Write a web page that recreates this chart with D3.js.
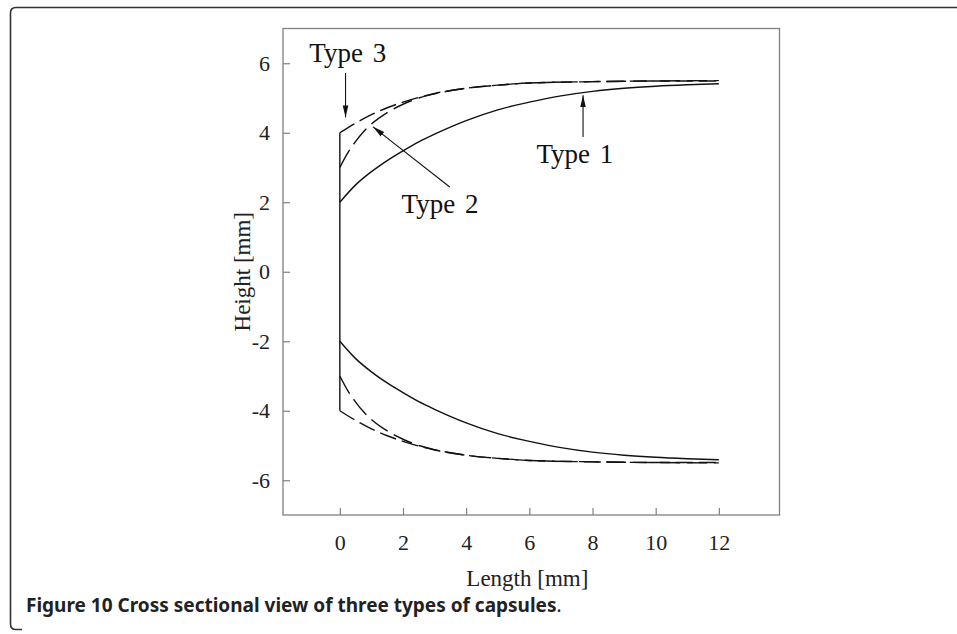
<!DOCTYPE html>
<html>
<head>
<meta charset="utf-8">
<script src="https://cdn.jsdelivr.net/npm/d3@7/dist/d3.min.js"></script>
<style>
  html, body { margin: 0; padding: 0; background: #fff; }
  svg { display: block; }
</style>
</head>
<body>
<svg id="chart" width="957" height="634"></svg>
<script>
// ---------------- data ----------------
const xTicks = [0, 2, 4, 6, 8, 10, 12];
const yTicks = [-6, -4, -2, 0, 2, 4, 6];

// Type 1 (solid)
const type1X     = [0, 0.5, 1, 1.5, 2, 2.5, 3, 4, 5, 6, 7, 8, 9, 10, 11, 12];
const type1Upper = [2.00, 2.50, 2.88, 3.20, 3.48, 3.74, 3.96, 4.35, 4.66, 4.88, 5.06, 5.19, 5.28, 5.34, 5.38, 5.41];
const type1Lower = [-2.00, -2.50, -2.88, -3.20, -3.48, -3.74, -3.96, -4.35, -4.66, -4.88, -5.06, -5.19, -5.28, -5.34, -5.38, -5.41];

// Type 2 (dashed)
const type2X     = [0, 0.25, 0.5, 0.75, 1, 1.5, 2, 2.5, 3, 4, 5, 6, 8, 10, 12];
const type2Upper = [3.00, 3.42, 3.75, 4.03, 4.25, 4.58, 4.82, 5.00, 5.12, 5.28, 5.37, 5.43, 5.47, 5.49, 5.50];
const type2Lower = [-3.00, -3.42, -3.75, -4.03, -4.25, -4.58, -4.82, -5.00, -5.12, -5.28, -5.37, -5.43, -5.47, -5.49, -5.50];

// Type 3 (long dashed)
const type3X     = [0, 0.5, 1, 1.5, 2, 3, 4, 5, 6, 8, 10, 12];
const type3Upper = [4.00, 4.28, 4.52, 4.72, 4.88, 5.13, 5.28, 5.37, 5.43, 5.47, 5.49, 5.49];
const type3Lower = [-4.00, -4.28, -4.52, -4.72, -4.88, -5.13, -5.28, -5.37, -5.43, -5.47, -5.49, -5.49];

// closing wall at x = 0
const wallX = [0, 0];
const wallY = [-4, 4];

// annotations: label text, label anchor, arrow tail -> head (data units)
const annLabels = ["Type 3", "Type 2", "Type 1"];
const annLabelX = [0.25, 3.17, 7.44];
const annLabelY = [6.03, 1.69, 3.13];
const annTailX  = [0.18, 3.48, 7.70];
const annTailY  = [5.72, 2.44, 3.88];
const annHeadX  = [0.18, 1.05, 7.70];
const annHeadY  = [4.44, 4.17, 5.08];

// ---------------- drawing ----------------
const svg = d3.select("#chart");
const serif = "'Liberation Serif', 'Times New Roman', serif";

// outer figure border (rounded, open on right/bottom)
svg.append("path")
  .attr("d", "M957,7.5 L16,7.5 Q10.5,7.5 10.5,13 L10.5,624 Q10.5,629.5 16,629.5 L22,629.5")
  .attr("fill", "none").attr("stroke", "#333").attr("stroke-width", 1.6);

const x = d3.scaleLinear().domain([-1.8, 13.92]).range([283, 779.5]);
const y = d3.scaleLinear().domain([-7, 7]).range([515, 28.5]);

// frame
svg.append("rect")
  .attr("x", x(-1.8)).attr("y", y(7))
  .attr("width", x(13.92) - x(-1.8)).attr("height", y(-7) - y(7))
  .attr("fill", "none").attr("stroke", "#808080").attr("stroke-width", 1.3);

// axes
const gx = svg.append("g").attr("transform", `translate(0,${y(-7)})`)
  .call(d3.axisBottom(x).tickValues(xTicks).tickSize(-7).tickPadding(19).tickFormat(d => String(d)));
const gy = svg.append("g").attr("transform", `translate(${x(-1.8)},0)`)
  .call(d3.axisLeft(y).tickValues(yTicks).tickSize(-7).tickPadding(13).tickFormat(d => String(d)));
[gx, gy].forEach(g => {
  g.select(".domain").remove();
  g.selectAll(".tick line").attr("stroke", "#808080").attr("stroke-width", 1.2);
  g.selectAll(".tick text").attr("fill", "#222").style("font-family", serif).style("font-size", "22px");
});

// axis titles
svg.append("text")
  .attr("x", (x(0) + x(12)) / 2 - 2).attr("y", 586)
  .attr("text-anchor", "middle")
  .style("font-family", serif).style("font-size", "23px").attr("fill", "#222")
  .text("Length [mm]");
svg.append("text")
  .attr("transform", `translate(250,${y(0)}) rotate(-90)`)
  .attr("text-anchor", "middle")
  .style("font-family", serif).style("font-size", "23px").attr("fill", "#222")
  .text("Height [mm]");

// curves
const line = d3.line().x(d => x(d[0])).y(d => y(d[1])).curve(d3.curveMonotoneX);
const zip = (xs, ys) => xs.map((v, i) => [v, ys[i]]);
const series = [
  { xs: type3X, ys: type3Upper, dash: "17,6" },
  { xs: type3X, ys: type3Lower, dash: "17,6" },
  { xs: type2X, ys: type2Upper, dash: "20,7" },
  { xs: type2X, ys: type2Lower, dash: "20,7" },
  { xs: type1X, ys: type1Upper, dash: null },
  { xs: type1X, ys: type1Lower, dash: null }
];
series.forEach(s => {
  svg.append("path")
    .attr("d", line(zip(s.xs, s.ys)))
    .attr("fill", "none").attr("stroke", "#111").attr("stroke-width", 1.4)
    .attr("stroke-dasharray", s.dash);
});
svg.append("path")
  .attr("d", d3.line().x(d => x(d[0])).y(d => y(d[1]))(zip(wallX, wallY)))
  .attr("fill", "none").attr("stroke", "#111").attr("stroke-width", 1.4);

// arrow marker
svg.append("defs").append("marker")
  .attr("id", "ah").attr("viewBox", "0 0 12 10")
  .attr("refX", 12).attr("refY", 5)
  .attr("markerWidth", 12).attr("markerHeight", 10)
  .attr("markerUnits", "userSpaceOnUse")
  .attr("orient", "auto")
  .append("path").attr("d", "M0,2.2 L12,5 L0,7.8 Z").attr("fill", "#111");

annLabels.forEach((t, i) => {
  svg.append("line")
    .attr("x1", x(annTailX[i])).attr("y1", y(annTailY[i]))
    .attr("x2", x(annHeadX[i])).attr("y2", y(annHeadY[i]))
    .attr("stroke", "#111").attr("stroke-width", 1.1)
    .attr("marker-end", "url(#ah)");
  svg.append("text")
    .attr("x", x(annLabelX[i])).attr("y", y(annLabelY[i]))
    .attr("text-anchor", "middle")
    .style("font-family", serif).style("font-size", "27px").attr("fill", "#111")
    .style("word-spacing", "3px")
    .text(t);
});

// caption
const cap = svg.append("text").attr("x", 26).attr("y", 612)
  .style("font-family", "'Noto Sans', 'Open Sans', sans-serif").style("font-size", "19px").attr("fill", "#222");
cap.append("tspan").style("font-weight", "bold").text("Figure 10 Cross sectional view of three types of capsules");
cap.append("tspan").style("font-weight", "normal").text(".");
</script>
</body>
</html>
